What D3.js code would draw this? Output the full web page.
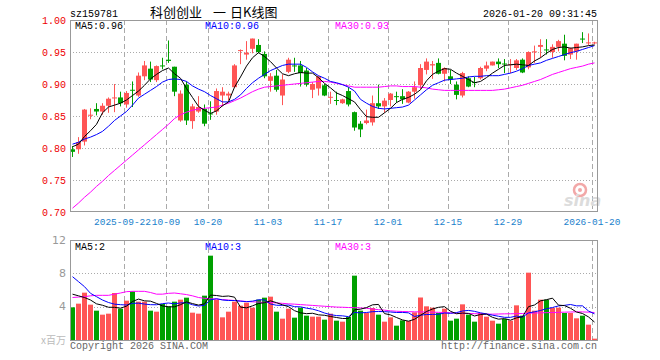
<!DOCTYPE html>
<html>
<head>
<meta charset="utf-8">
<script src="https://cdn.jsdelivr.net/npm/d3@7"></script>
<style>
    body { margin: 0; background: #fff; }
    text { font-family: "Liberation Mono", "DejaVu Sans Mono", monospace; font-size: 10px; }
</style>
</head>
<body>
<div id="chart"></div>
<script>
// daily candles, 2025-09-09 .. 2026-01-20 (88 trading days)
var opens = [0.798,0.798,0.810,0.851,0.861,0.857,0.866,0.878,0.879,0.868,
    0.891,0.882,0.912,0.924,0.906,0.929,0.938,0.927,0.843,0.899,
    0.842,0.857,0.861,0.854,0.857,0.882,0.882,0.895,0.952,0.946,
    0.955,0.961,0.947,0.905,0.913,0.882,0.919,0.929,0.929,0.921,
    0.891,0.893,0.898,0.879,0.875,0.870,0.889,0.856,0.838,0.839,
    0.840,0.870,0.865,0.875,0.881,0.881,0.871,0.888,0.898,0.922,
    0.929,0.933,0.916,0.912,0.899,0.882,0.909,0.903,0.909,0.924,
    0.929,0.935,0.932,0.930,0.925,0.938,0.926,0.950,0.958,0.954,
    0.950,0.958,0.963,0.946,0.951,0.971,0.964,0.964]
var highs = [0.803,0.817,0.861,0.862,0.870,0.870,0.879,0.900,0.888,0.889,
    0.904,0.918,0.936,0.935,0.929,0.941,0.968,0.927,0.890,0.904,
    0.869,0.881,0.868,0.873,0.893,0.895,0.888,0.931,0.954,0.967,
    0.971,0.970,0.951,0.917,0.922,0.915,0.941,0.941,0.936,0.925,
    0.903,0.913,0.900,0.888,0.888,0.877,0.895,0.857,0.842,0.860,
    0.882,0.899,0.878,0.886,0.888,0.892,0.889,0.904,0.931,0.940,
    0.936,0.940,0.926,0.922,0.904,0.919,0.912,0.911,0.927,0.935,
    0.935,0.940,0.939,0.939,0.939,0.940,0.951,0.960,0.970,0.970,
    0.962,0.969,0.977,0.957,0.963,0.981,0.979,0.966]
var lows = [0.786,0.791,0.804,0.845,0.851,0.852,0.855,0.856,0.865,0.863,
    0.864,0.880,0.906,0.903,0.903,0.923,0.933,0.881,0.841,0.836,
    0.830,0.855,0.834,0.844,0.852,0.865,0.874,0.894,0.931,0.938,
    0.948,0.948,0.909,0.888,0.888,0.867,0.917,0.919,0.896,0.896,
    0.878,0.882,0.881,0.869,0.867,0.869,0.865,0.827,0.817,0.837,
    0.835,0.861,0.855,0.865,0.871,0.869,0.870,0.877,0.892,0.915,
    0.908,0.915,0.904,0.900,0.876,0.879,0.895,0.895,0.907,0.920,
    0.929,0.925,0.917,0.917,0.922,0.917,0.923,0.933,0.941,0.946,
    0.941,0.951,0.937,0.939,0.938,0.964,0.961,0.962]
var closes = [0.794,0.809,0.860,0.852,0.857,0.866,0.877,0.879,0.870,0.886,
    0.890,0.913,0.929,0.907,0.928,0.928,0.936,0.888,0.885,0.843,
    0.865,0.864,0.838,0.853,0.889,0.888,0.885,0.929,0.953,0.949,
    0.971,0.950,0.912,0.912,0.891,0.907,0.938,0.928,0.917,0.899,
    0.900,0.912,0.882,0.880,0.874,0.876,0.868,0.832,0.829,0.843,
    0.870,0.865,0.874,0.885,0.880,0.876,0.888,0.895,0.925,0.935,
    0.931,0.916,0.925,0.907,0.883,0.917,0.896,0.902,0.925,0.929,
    0.935,0.931,0.931,0.931,0.937,0.918,0.950,0.951,0.961,0.953,
    0.958,0.967,0.944,0.956,0.963,0.970,0.965,0.965]

var ma5 = [0.802,0.806,0.818,0.827,0.837,0.855,0.864,0.867,0.870,0.875,
    0.882,0.889,0.898,0.908,0.915,0.921,0.925,0.916,0.909,0.893,
    0.879,0.865,0.859,0.854,0.858,0.866,0.872,0.895,0.911,0.928,
    0.941,0.949,0.943,0.935,0.925,0.916,0.913,0.916,0.918,0.917,
    0.917,0.910,0.901,0.894,0.886,0.882,0.877,0.872,0.860,0.849,
    0.848,0.848,0.855,0.862,0.871,0.876,0.879,0.884,0.891,0.905,
    0.915,0.920,0.924,0.923,0.917,0.912,0.907,0.902,0.904,0.910,
    0.917,0.923,0.929,0.930,0.931,0.930,0.929,0.936,0.941,0.948,
    0.954,0.957,0.958,0.956,0.957,0.958,0.960,0.961]
var ma10 = [0.806,0.809,0.814,0.817,0.821,0.826,0.834,0.843,0.850,0.857,
    0.867,0.878,0.884,0.890,0.896,0.903,0.907,0.908,0.907,0.904,
    0.897,0.892,0.888,0.882,0.877,0.872,0.872,0.876,0.883,0.893,
    0.902,0.909,0.915,0.921,0.925,0.929,0.931,0.931,0.931,0.926,
    0.919,0.913,0.909,0.904,0.902,0.899,0.895,0.889,0.876,0.870,
    0.865,0.862,0.861,0.862,0.863,0.864,0.867,0.875,0.883,0.891,
    0.898,0.902,0.906,0.907,0.908,0.909,0.911,0.912,0.912,0.913,
    0.913,0.913,0.915,0.917,0.920,0.924,0.929,0.931,0.933,0.937,
    0.940,0.943,0.946,0.949,0.951,0.954,0.957,0.960]
var ma30 = [0.706,0.714,0.723,0.731,0.740,0.748,0.757,0.765,0.773,0.781,
    0.789,0.797,0.805,0.813,0.821,0.829,0.837,0.846,0.852,0.856,
    0.859,0.861,0.862,0.863,0.864,0.867,0.870,0.874,0.878,0.883,
    0.888,0.892,0.895,0.896,0.897,0.898,0.899,0.900,0.901,0.902,
    0.903,0.904,0.904,0.903,0.901,0.899,0.897,0.895,0.895,0.895,
    0.895,0.895,0.896,0.897,0.897,0.896,0.896,0.896,0.895,0.894,
    0.892,0.891,0.890,0.890,0.890,0.890,0.890,0.890,0.890,0.890,
    0.890,0.891,0.892,0.894,0.896,0.898,0.901,0.904,0.907,0.911,
    0.915,0.918,0.921,0.924,0.926,0.928,0.931,0.933]

// volume, millions
var volumes = [3.92,4.36,5.68,4.24,3.52,3.04,3.16,5.64,3.76,4.72,
    5.84,4.6,4.6,3.52,3.4,4.32,4.04,4.6,4.84,5.08,
    3.28,3.16,5.32,10.12,4.84,2.72,3.4,4.6,4.12,4.48,
    3.88,4.84,5.08,5.2,3.4,2.56,3.76,2.68,3.88,2.92,
    2.8,2.8,2.44,3.16,2.32,2.2,2.76,7.72,3.52,3.24,
    3.84,3.04,2.2,2.72,1.72,2.36,2.28,3.32,5.1,4.04,
    3.88,3.24,3.76,2.32,2.56,4.28,3.04,2.2,3.24,2.8,
    2.32,1.96,2.52,2.32,4.16,2.92,8.08,3.52,4.84,4.84,
    3.84,3.88,3.24,3.24,2.6,2.92,1.84,0.16]
var vma5 = [5.5,5.3,5.1,4.8,4.34,4.17,3.93,3.92,3.82,4.06,
    4.62,4.91,4.70,4.66,4.39,4.09,3.98,3.98,4.24,4.58,
    4.37,4.19,4.34,5.39,5.34,5.23,5.28,5.14,3.94,3.86,
    4.10,4.38,4.48,4.70,4.48,4.22,4.0,3.52,3.26,3.16,
    3.21,3.02,2.97,2.82,2.70,2.58,2.58,3.63,3.70,3.89,
    4.22,4.27,3.17,3.01,2.70,2.41,2.26,2.48,2.96,3.42,
    3.72,3.92,4.00,3.45,3.15,3.23,3.19,2.88,3.06,3.11,
    2.72,2.50,2.57,2.38,2.66,2.78,4.00,4.20,4.70,4.84,
    5.02,4.18,4.13,3.81,3.36,3.18,2.77,2.15]
var vma10 = [7.6,7.0,6.4,5.6,5.2,4.8,4.5,4.3,4.24,4.20,
    4.40,4.42,4.31,4.24,4.23,4.36,4.44,4.34,4.45,4.48,
    4.23,4.08,4.16,4.82,4.96,4.80,4.74,4.74,4.66,4.60,
    4.66,4.83,4.81,4.32,4.17,4.16,4.19,4.00,3.98,3.82,
    3.71,3.51,3.24,3.04,2.93,2.90,2.80,3.30,3.26,3.30,
    3.40,3.42,3.40,3.36,3.30,3.31,3.26,2.82,2.98,3.06,
    3.07,3.09,3.24,3.20,3.29,3.48,3.55,3.44,3.26,3.13,
    2.98,2.85,2.72,2.72,2.88,2.75,3.25,3.38,3.54,3.75,
    3.90,4.09,4.16,4.26,4.10,4.10,3.48,3.14]
var vma30 = [5.1,5.15,5.2,5.3,5.36,5.36,5.36,5.5,5.64,5.8,
    5.84,5.84,5.84,5.7,5.5,5.5,5.6,5.64,5.55,5.45,
    5.3,5.1,5.0,4.95,4.9,4.85,4.8,4.74,4.68,4.62,
    4.58,4.55,4.52,4.5,4.45,4.4,4.34,4.3,4.25,4.2,
    4.15,4.1,4.05,4.0,3.95,3.93,3.9,3.88,3.85,3.8,
    3.72,3.64,3.58,3.5,3.45,3.42,3.4,3.38,3.37,3.36,
    3.34,3.32,3.3,3.26,3.22,3.2,3.18,3.16,3.13,3.1,
    3.1,3.12,3.14,3.15,3.16,3.18,3.22,3.24,3.26,3.28,
    3.3,3.32,3.34,3.36,3.38,3.37,3.34,3.3]

var tickIndex = [9, 16, 23, 33, 43, 53, 63, 73, 87]
var tickDates = ["2025-09-22","10-09","10-20","11-03","11-17","12-01","12-15","12-29","2026-01-20"]
var priceTicks = [0.70, 0.75, 0.80, 0.85, 0.90, 0.95, 1.00]
var volTicks = [4, 8, 12]
var titleParts = ["科创创业", "一", "日K线图"]

var upColor = "#ff5555", downColor = "#00a000", gridColor = "#aaaaaa", frameColor = "#999999"

var svg = d3.select("#chart").append("svg")
    .attr("width", 660).attr("height", 360)
    .style("background", "#fff")

var x = d3.scaleLinear().domain([0, 88]).range([70, 598])
var yP = d3.scaleLinear().domain([0.70, 1.00]).range([212, 20])
var yV = d3.scaleLinear().domain([0, 12]).range([340, 240])

// header
svg.append("text").attr("x", 70).attr("y", 16.5).text("sz159781").style("fill", "#000")
var titleX = [150, 213, 230]
svg.selectAll(null).data(titleParts).enter().append("text")
    .attr("x", (d, i) => titleX[i]).attr("y", 17).text(d => d)
    .style("font-family", "'Noto Sans CJK SC', sans-serif").style("font-size", "13px")
svg.append("text").attr("x", 597).attr("y", 16.5).attr("text-anchor", "end").text("2026-01-20 09:31:45")

// grid, both panels
function drawGrid(yScale, values, top, bottom){
    svg.selectAll(null).data(values).enter().append("line")
        .attr("x1", 70).attr("x2", 598)
        .attr("y1", d => Math.round(yScale(d)) + 0.5).attr("y2", d => Math.round(yScale(d)) + 0.5)
        .style("stroke", gridColor).style("stroke-dasharray", "1,2")
    svg.selectAll(null).data(tickIndex).enter().append("line")
        .attr("x1", d => x(d) + 0.5).attr("x2", d => x(d) + 0.5)
        .attr("y1", top).attr("y2", bottom)
        .style("stroke", gridColor).style("stroke-dasharray", "5,3")
}
drawGrid(yP, [0.75, 0.80, 0.85, 0.90, 0.95], 20, 212)
drawGrid(yV, [4, 8], 240, 340)

// price labels
svg.selectAll(null).data(priceTicks).enter().append("text")
    .attr("x", 66).attr("y", d => yP(d) + 3.5).attr("text-anchor", "end")
    .text(d => d.toFixed(2)).style("fill", "#ee0000")

// date labels (first one nudged so it just touches the next)
svg.selectAll(null).data(tickIndex).enter().append("text")
    .attr("x", (d, i) => i == 0 ? x(d) - 1.5 : x(d)).attr("y", 225).attr("text-anchor", "middle")
    .text((d, i) => tickDates[i]).style("fill", "#1a7fcc").style("font-size", "9.5px")

// volume labels
svg.selectAll(null).data(volTicks).enter().append("text")
    .attr("x", 66).attr("y", d => yV(d) + 3.5).attr("text-anchor", "end")
    .text(d => d).style("fill", "#999").style("font-family", "'DejaVu Sans', sans-serif").style("font-size", "11px")
svg.append("text").attr("x", 66).attr("y", 343.5).attr("text-anchor", "end")
    .text("x百万").style("fill", "#bbb").style("font-family", "'Noto Sans CJK SC', sans-serif").style("font-size", "10px")

// sina watermark
svg.append("circle").attr("cx", 580).attr("cy", 190).attr("r", 6).style("fill", "none").style("stroke", "#f2a8a8").style("stroke-width", 2.5)
svg.append("circle").attr("cx", 580).attr("cy", 190).attr("r", 2).style("fill", "#f2a8a8")
svg.append("text").attr("x", 564).attr("y", 206).text("sina")
    .style("font-family", "'DejaVu Sans', sans-serif").style("font-size", "16px")
    .style("font-weight", "bold").style("font-style", "italic").style("fill", "#dcdcdc")

// candles
var candles = svg.append("g")
candles.selectAll("rect.wick").data(closes).enter().append("rect")
    .attr("x", (d, i) => x(i) + 2).attr("width", 1)
    .attr("y", (d, i) => yP(highs[i])).attr("height", (d, i) => Math.max(1, yP(lows[i]) - yP(highs[i])))
    .style("fill", (d, i) => d >= opens[i] ? upColor : downColor)
candles.selectAll("rect.body").data(closes).enter().append("rect")
    .attr("x", (d, i) => x(i)).attr("width", 5)
    .attr("y", (d, i) => yP(Math.max(d, opens[i])))
    .attr("height", (d, i) => Math.max(1, Math.abs(yP(d) - yP(opens[i]))))
    .style("fill", (d, i) => d >= opens[i] ? upColor : downColor)

// volume bars
svg.selectAll(null).data(volumes).enter().append("rect")
    .attr("x", (d, i) => x(i)).attr("width", 5)
    .attr("y", d => yV(d)).attr("height", d => yV(0) - yV(d))
    .style("fill", (d, i) => closes[i] >= opens[i] ? upColor : downColor)

// moving averages
function drawLine(values, yScale, color){
    var line = d3.line().x((d, i) => x(i) + 2.5).y(d => yScale(d))
    svg.append("path").datum(values).attr("d", line)
        .style("fill", "none").style("stroke", color).style("stroke-width", 1)
}
drawLine(ma30, yP, "#ff00ff")
drawLine(ma10, yP, "#0000ff")
drawLine(ma5, yP, "#000000")
drawLine(vma30, yV, "#ff00ff")
drawLine(vma10, yV, "#0000ff")
drawLine(vma5, yV, "#000000")

// frames
svg.append("rect").attr("x", 70.5).attr("y", 20.5).attr("width", 527).attr("height", 191)
    .style("fill", "none").style("stroke", frameColor)
svg.append("rect").attr("x", 70.5).attr("y", 240.5).attr("width", 527).attr("height", 100)
    .style("fill", "none").style("stroke", frameColor)

// MA legends
var last = closes.length - 1
svg.append("text").attr("x", 75).attr("y", 29).text("MA5:" + ma5[last].toFixed(2)).style("fill", "#000")
svg.append("text").attr("x", 205).attr("y", 29).text("MA10:" + ma10[last].toFixed(2)).style("fill", "#0000ff")
svg.append("text").attr("x", 335).attr("y", 29).text("MA30:" + ma30[last].toFixed(2)).style("fill", "#ff00ff")
svg.append("text").attr("x", 75).attr("y", 249.5).text("MA5:" + Math.round(vma5[last])).style("fill", "#000")
svg.append("text").attr("x", 205).attr("y", 249.5).text("MA10:" + Math.round(vma10[last])).style("fill", "#0000ff")
svg.append("text").attr("x", 335).attr("y", 249.5).text("MA30:" + Math.round(vma30[last])).style("fill", "#ff00ff")

// footer
svg.append("text").attr("x", 70).attr("y", 349).text("Copyright 2026 SINA.COM").style("fill", "#666")
svg.append("text").attr("x", 597).attr("y", 349).attr("text-anchor", "end").text("http://finance.sina.com.cn").style("fill", "#666")
</script>
</body>
</html>
